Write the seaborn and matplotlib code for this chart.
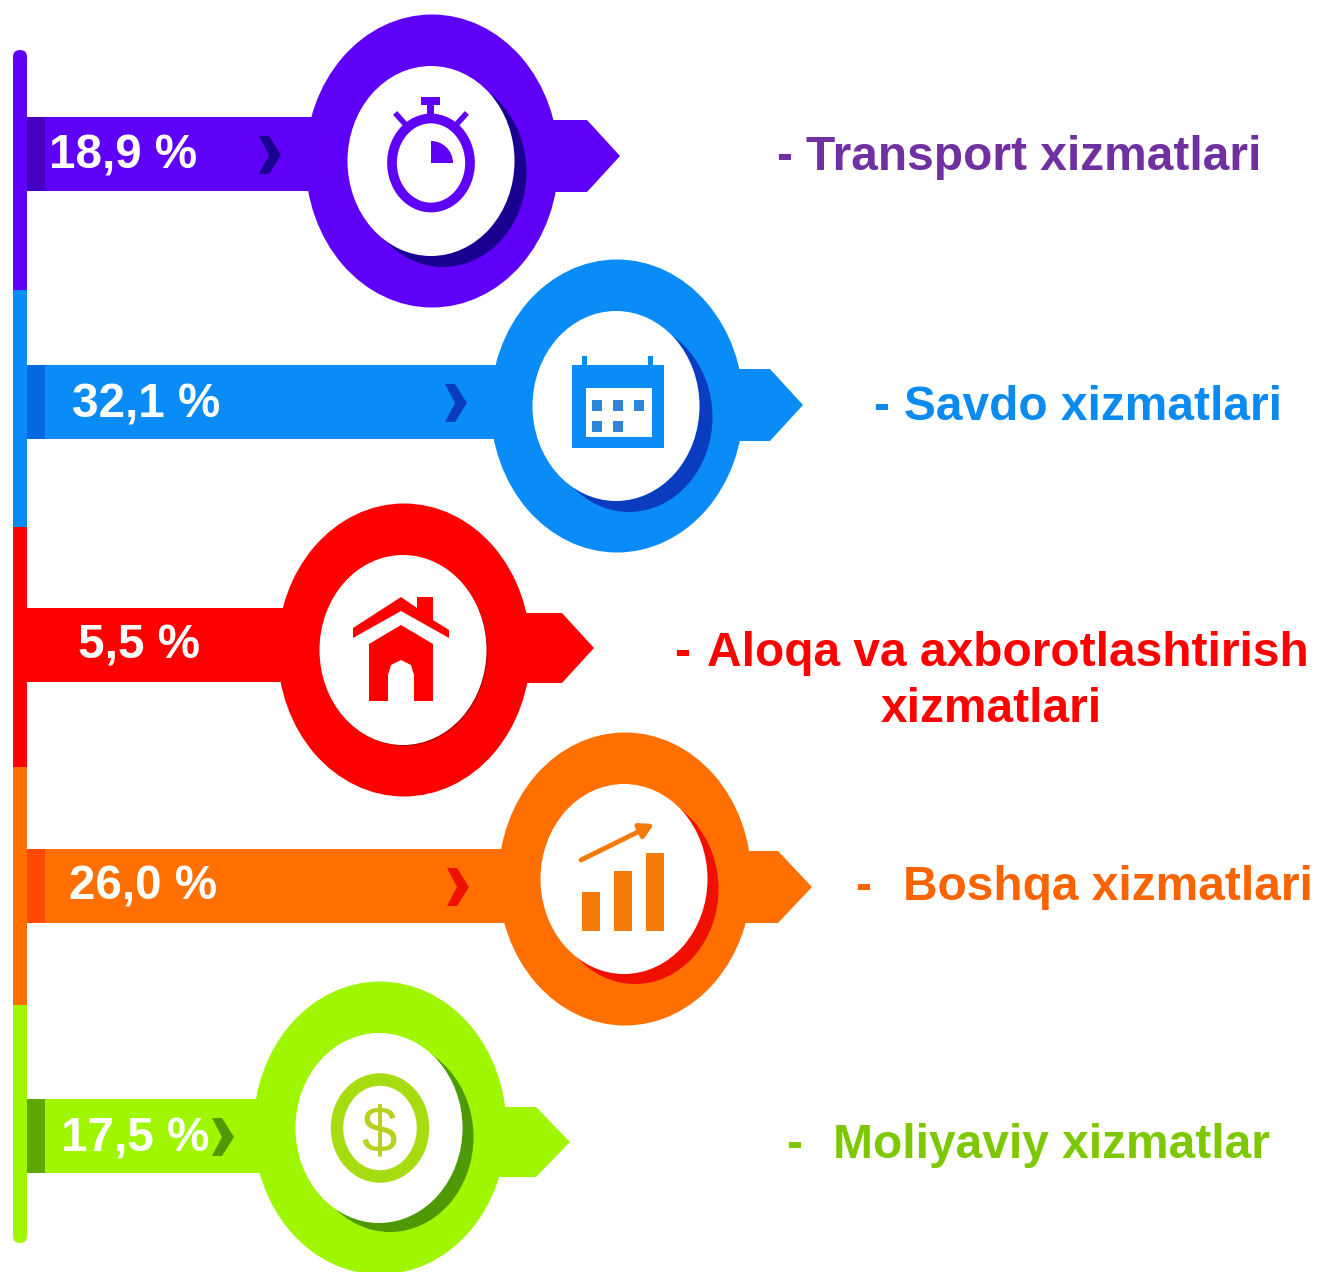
import numpy as np
import pandas as pd
import matplotlib
matplotlib.use("Agg")
import matplotlib.pyplot as plt
import seaborn as sns
from matplotlib.patches import Ellipse, Rectangle, FancyBboxPatch, Polygon, Wedge

# chart values
categories = ["Transport", "Savdo", "Aloqa", "Boshqa", "Moliyaviy"]
shares = [18.9, 32.1, 5.5, 26.0, 17.5]
legend_lines = [
    ["Transport xizmatlari"],
    ["Savdo xizmatlari"],
    ["Aloqa va axborotlashtirish", "xizmatlari"],
    ["Boshqa xizmatlari"],
    ["Moliyaviy xizmatlar"],
]

# colours
main_col = ["#5F00F8", "#0A8CF8", "#FF0000", "#FF7000", "#A0F500"]
dark_col = ["#4800C0", "#0668E0", "#FF0000", "#FF4800", "#5FA800"]
shadow_col = ["#1A0090", "#0A3CC0", "#B00000", "#F01000", "#4E9A06"]
text_col = ["#7030A0", "#0B8AEF", "#FF0000", "#F96400", "#7DC800"]

# layout in picture pixels
bar_y = [154, 402, 645, 886, 1136]
ring_x = [432, 617, 404, 625, 380]
ring_y = [161, 406, 650, 879, 1128]
tip_x = [620, 803, 594, 812, 570]
tip_y = [156, 405, 648, 887, 1142]
head_x = [587, 770, 562, 778, 536]
tail_half = [36, 36, 35, 36, 35]
shadow_off = [(12, 11), (13, 11), (1, 1), (11, 10), (11, 9)]
label_x = [49, 72, 78, 69, 61]
label_y = [156, 405, 646, 887, 1139]
chevron_x = [259, 445, None, 447, 212]
dash_x = [776, 873, 674, 855, 786]
legend_x = [[806], [904], [707, 881], [903], [833]]
legend_y = [[157], [408], [653, 709], [888], [1146]]
spine_breaks = [50, 290, 527, 767, 1005, 1243]
bar_left = 27

df = pd.DataFrame({"cat": categories, "y": bar_y, "end": ring_x})

plt.rcParams["font.family"] = ["Liberation Sans", "DejaVu Sans"]
fig = plt.figure(figsize=(13.17, 12.72), dpi=100)
ax = fig.add_axes([0, 0, 1, 1])

# shafts
sns.barplot(data=df, x="end", y="y", hue="cat", palette=main_col, orient="h", native_scale=True, saturation=1,
            dodge=False, legend=False, errorbar=None, width=74 / 241, ax=ax, zorder=2, linewidth=0)
for bar in ax.patches:
    w = bar.get_width()
    bar.set_x(bar_left)
    bar.set_width(w - bar_left)

# vertical spine, the two ends are rounded and run under the next segment
for i, col in enumerate(main_col):
    top, bottom = spine_breaks[i], spine_breaks[i + 1]
    if i == 0:
        ax.add_patch(FancyBboxPatch((13, top), 14, bottom - top + 30, boxstyle="round,pad=0,rounding_size=7",
                                    fc=col, ec="none", zorder=3))
    elif i == 4:
        ax.add_patch(FancyBboxPatch((13, top - 30), 14, bottom - top + 30, boxstyle="round,pad=0,rounding_size=7",
                                    fc=col, ec="none", zorder=3))
    else:
        ax.add_patch(Rectangle((13, top), 14, bottom - top, fc=col, ec="none", zorder=4))

for i in range(5):
    cx, cy = ring_x[i], ring_y[i]
    # arrow tail
    ax.add_patch(Polygon([(cx, tip_y[i] - tail_half[i]), (head_x[i], tip_y[i] - tail_half[i]), (tip_x[i], tip_y[i]),
                          (head_x[i], tip_y[i] + tail_half[i]), (cx, tip_y[i] + tail_half[i])],
                         fc=main_col[i], ec="none", zorder=1))
    # ring, shadow, white hole
    ax.add_patch(Ellipse((cx, cy), 253, 293, fc=main_col[i], ec="none", zorder=5))
    dx, dy = shadow_off[i]
    ax.add_patch(Ellipse((cx + dx - 1, cy + dy), 167, 190, fc=shadow_col[i], ec="none", zorder=6))
    ax.add_patch(Ellipse((cx - 1, cy), 167, 190, fc="white", ec="none", zorder=7))
    # dark strip next to the spine
    ax.add_patch(Rectangle((bar_left, bar_y[i] - 37), 18, 74, fc=dark_col[i], ec="none", zorder=3))
    # chevron
    if chevron_x[i] is not None:
        x0 = chevron_x[i]
        y0 = bar_y[i] + 1
        ax.add_patch(Polygon([(x0, y0 - 19), (x0 + 10, y0 - 19), (x0 + 22, y0), (x0 + 10, y0 + 19), (x0, y0 + 19),
                              (x0 + 10, y0)], fc=shadow_col[i], ec="none", zorder=3))
    # share label
    ax.text(label_x[i], label_y[i], f"{shares[i]:.1f}".replace(".", ",") + " %", color="white", fontsize=34.3,
            fontweight="bold", va="center", ha="left", zorder=9)
    # legend text
    ax.text(dash_x[i], legend_y[i][0], "-", color=text_col[i], fontsize=34.5, fontweight="bold", va="center",
            ha="left", zorder=9)
    for line, lx, ly in zip(legend_lines[i], legend_x[i], legend_y[i]):
        ax.text(lx, ly, line, color=text_col[i], fontsize=34.5, fontweight="bold", va="center", ha="left", zorder=9)

# stopwatch
c = main_col[0]
ax.add_patch(Ellipse((431, 163), 78, 89, fc="none", ec=c, lw=7, zorder=8))
ax.add_patch(Rectangle((421, 97), 19, 8, fc=c, ec="none", zorder=8))
ax.add_patch(Rectangle((427, 104), 7, 11, fc=c, ec="none", zorder=8))
ax.plot([397, 406], [115, 125], color=c, lw=4, zorder=8)
ax.plot([465, 456], [115, 125], color=c, lw=4, zorder=8)
ax.add_patch(Wedge((431, 163), 22, 270, 360, fc=c, ec="none", zorder=8))

# calendar
c = main_col[1]
ax.add_patch(Rectangle((572, 365), 92, 83, fc=c, ec="none", zorder=8))
ax.add_patch(Rectangle((586, 388), 66, 49, fc="white", ec="none", zorder=8))
ax.add_patch(Rectangle((582, 356), 5, 10, fc=c, ec="none", zorder=8))
ax.add_patch(Rectangle((648, 356), 5, 10, fc=c, ec="none", zorder=8))
for px, py in [(592, 400), (613, 400), (634, 400), (592, 421), (613, 421)]:
    ax.add_patch(Rectangle((px, py), 10, 11, fc="#2E86D8", ec="none", zorder=9))

# house
c = main_col[2]
ax.add_patch(Polygon([(353, 628), (401, 597), (417, 608), (417, 597), (433, 597), (433, 620), (449, 630), (449, 638),
                      (401, 611), (353, 638)], fc=c, ec="none", zorder=8))
ax.add_patch(Polygon([(369, 644), (401, 625), (433, 644), (433, 701), (414, 701), (414, 675), (411, 665), (401, 660),
                      (391, 665), (388, 675), (388, 701), (369, 701)], fc=c, ec="none", zorder=8))

# growth chart
c = "#F47A08"
for bx, by in [(582, 892), (614, 871), (646, 853)]:
    ax.add_patch(Rectangle((bx, by), 18, 931 - by, fc=c, ec="none", zorder=8))
ax.annotate("", xy=(654, 824), xytext=(581, 860), zorder=8,
            arrowprops=dict(arrowstyle="-|>,head_width=0.45,head_length=0.8", color=c, lw=3.5, shrinkA=0, shrinkB=0))

# coin
c = "#A6DC10"
ax.add_patch(Ellipse((380, 1128), 86, 97, fc="none", ec=c, lw=9, zorder=8))
ax.text(379, 1134, "$", color="#B8D020", fontsize=46, ha="center", va="center", zorder=9)

ax.set_xlim(0, 1317)
ax.set_ylim(1272, 0)
ax.set_axis_off()
fig.savefig("out.png", dpi=100, facecolor="white")
